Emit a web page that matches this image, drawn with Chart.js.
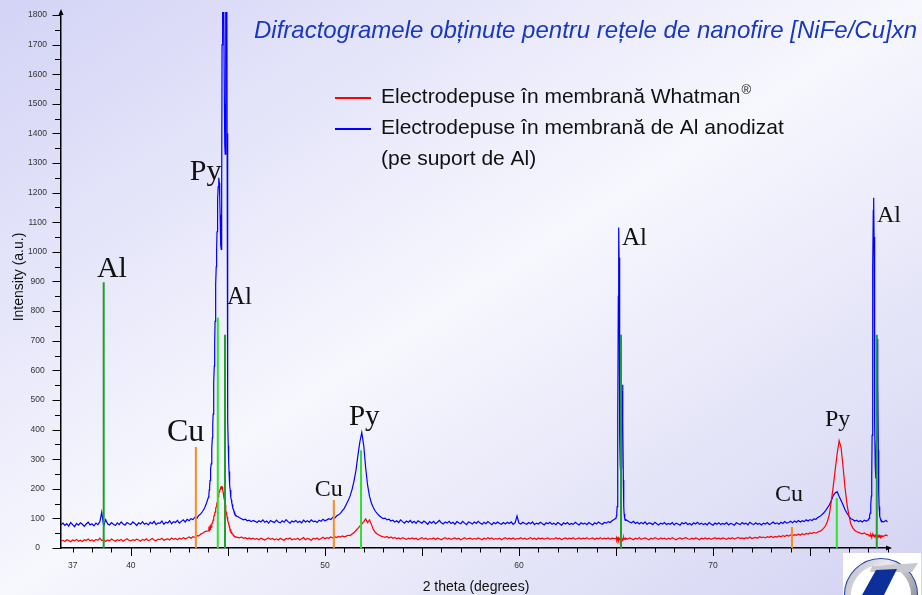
<!DOCTYPE html>
<html>
<head>
<meta charset="utf-8">
<script src="https://cdn.jsdelivr.net/npm/chart.js@4.4.1/dist/chart.umd.min.js"></script>
<style>
  html, body { margin: 0; padding: 0; }
  body {
    width: 922px; height: 595px; overflow: hidden;
    background: linear-gradient(to bottom right, #d3d3f6 0%, #f7f7fe 50%, #d3d3f3 100%);
  }
  #wrap { position: relative; width: 922px; height: 595px; }
  canvas { position: absolute; left: 0; top: 0; }
</style>
</head>
<body>
<div id="wrap"><canvas id="xrd" width="922" height="595"></canvas></div>
<script>
// Diffraction angle 2θ (degrees); finer steps across the sharp reflections
const twoTheta = [
  36.4,36.5,36.6,36.7,36.8,36.9,37.0,37.1,37.2,37.3,
  37.4,37.5,37.6,37.7,37.8,37.9,38.0,38.1,38.2,38.3,
  38.4,38.5,38.6,38.7,38.8,38.9,39.0,39.1,39.2,39.3,
  39.4,39.5,39.6,39.7,39.8,39.9,40.0,40.1,40.2,40.3,
  40.4,40.5,40.6,40.7,40.8,40.9,41.0,41.1,41.2,41.3,
  41.4,41.5,41.6,41.7,41.8,41.9,42.0,42.1,42.2,42.3,
  42.4,42.5,42.6,42.7,42.8,42.9,43.0,43.1,43.2,43.3,
  43.4,43.5,43.6,43.7,43.8,43.9,
  44.00,44.02,44.04,44.06,44.08,44.10,44.12,44.14,44.16,44.18,
  44.20,44.22,44.24,44.26,44.28,44.30,44.32,44.34,44.36,44.38,
  44.40,44.42,44.44,44.46,44.48,44.50,44.52,44.54,44.56,44.58,
  44.60,44.62,44.64,44.66,44.68,44.70,44.72,44.74,44.76,44.78,
  44.80,44.82,44.84,44.86,44.88,44.90,44.92,44.94,44.96,44.98,
  45.00,45.02,45.04,45.06,45.08,45.10,45.12,45.14,45.16,45.18,
  45.20,45.22,45.24,45.26,45.28,45.30,45.32,45.34,45.36,45.38,
  45.40,
  45.5,45.6,45.7,45.8,45.9,46.0,46.1,46.2,46.3,46.4,
  46.5,46.6,46.7,46.8,46.9,47.0,47.1,47.2,47.3,47.4,
  47.5,47.6,47.7,47.8,47.9,48.0,48.1,48.2,48.3,48.4,
  48.5,48.6,48.7,48.8,48.9,49.0,49.1,49.2,49.3,49.4,
  49.5,49.6,49.7,49.8,49.9,50.0,50.1,50.2,50.3,50.4,
  50.5,50.6,50.7,50.8,50.9,51.0,51.1,51.2,51.3,51.4,
  51.5,51.6,51.7,51.8,51.9,52.0,52.1,52.2,52.3,52.4,
  52.5,52.6,52.7,52.8,52.9,53.0,53.1,53.2,53.3,53.4,
  53.5,53.6,53.7,53.8,53.9,54.0,54.1,54.2,54.3,54.4,
  54.5,54.6,54.7,54.8,54.9,55.0,55.1,55.2,55.3,55.4,
  55.5,55.6,55.7,55.8,55.9,56.0,56.1,56.2,56.3,56.4,
  56.5,56.6,56.7,56.8,56.9,57.0,57.1,57.2,57.3,57.4,
  57.5,57.6,57.7,57.8,57.9,58.0,58.1,58.2,58.3,58.4,
  58.5,58.6,58.7,58.8,58.9,59.0,59.1,59.2,59.3,59.4,
  59.5,59.6,59.7,59.8,59.9,60.0,60.1,60.2,60.3,60.4,
  60.5,60.6,60.7,60.8,60.9,61.0,61.1,61.2,61.3,61.4,
  61.5,61.6,61.7,61.8,61.9,62.0,62.1,62.2,62.3,62.4,
  62.5,62.6,62.7,62.8,62.9,63.0,63.1,63.2,63.3,63.4,
  63.5,63.6,63.7,63.8,63.9,64.0,64.1,64.2,64.3,64.4,
  64.5,64.6,64.7,64.8,64.9,
  65.00,65.02,65.04,65.06,65.08,65.10,65.12,65.14,65.16,65.18,
  65.20,65.22,65.24,65.26,65.28,65.30,65.32,65.34,65.36,65.38,
  65.40,65.42,65.44,65.46,65.48,65.50,
  65.6,65.7,65.8,65.9,66.0,66.1,66.2,66.3,66.4,66.5,
  66.6,66.7,66.8,66.9,67.0,67.1,67.2,67.3,67.4,67.5,
  67.6,67.7,67.8,67.9,68.0,68.1,68.2,68.3,68.4,68.5,
  68.6,68.7,68.8,68.9,69.0,69.1,69.2,69.3,69.4,69.5,
  69.6,69.7,69.8,69.9,70.0,70.1,70.2,70.3,70.4,70.5,
  70.6,70.7,70.8,70.9,71.0,71.1,71.2,71.3,71.4,71.5,
  71.6,71.7,71.8,71.9,72.0,72.1,72.2,72.3,72.4,72.5,
  72.6,72.7,72.8,72.9,73.0,73.1,73.2,73.3,73.4,73.5,
  73.6,73.7,73.8,73.9,74.0,74.1,74.2,74.3,74.4,74.5,
  74.6,74.7,74.8,74.9,75.0,75.1,75.2,75.3,75.4,75.5,
  75.6,75.7,75.8,75.9,76.0,76.1,76.2,76.3,76.4,76.5,
  76.6,76.7,76.8,76.9,77.0,77.1,77.2,77.3,77.4,77.5,
  77.6,77.7,77.8,77.9,78.0,
  78.02,78.04,78.06,78.08,78.10,78.12,78.14,78.16,78.18,78.20,
  78.22,78.24,78.26,78.28,78.30,78.32,78.34,78.36,78.38,78.40,
  78.42,78.44,78.46,78.48,78.50,78.52,78.54,78.56,78.58,78.60,
  78.62,78.64,78.66,78.68,78.70,
  78.8,78.9,79.0
];

// Intensity (a.u.) — nanowires grown in the Whatman® membrane
const whatman = [
  24,26,22,28,25,21,27,24,29,23,
  26,22,28,25,30,24,27,23,29,26,
  33,25,28,22,27,24,30,26,23,28,
  25,29,23,27,31,26,24,28,25,30,
  27,23,29,26,31,25,28,32,27,24,
  30,28,33,26,29,31,27,34,29,32,
  28,33,30,35,31,34,37,33,38,36,
  42,41,47,50,55,57,
  58,63,59,67,63,71,74,70,79,81,
  85,90,94,99,105,110,116,121,127,133,
  139,146,153,160,167,173,179,185,190,195,
  199,202,205,207,204,206,200,195,188,180,
  172,163,155,146,137,128,120,112,105,98,
  92,86,81,76,71,67,63,60,57,54,
  52,49,47,46,44,42,41,39,40,37,
  38,
  36,34,37,33,35,31,34,30,33,29,
  32,28,33,30,27,31,34,29,32,28,
  31,27,33,29,26,32,30,34,28,31,
  29,33,27,31,35,28,32,30,26,33,
  30,34,28,32,36,31,35,33,37,34,
  38,35,39,37,41,38,40,43,42,47,
  52,59,66,74,81,88,98,86,95,79,
  62,52,47,43,40,38,36,39,34,37,
  33,36,31,34,30,35,32,29,33,31,
  34,30,33,28,32,35,30,33,29,32,
  30,34,29,33,31,28,32,35,30,33,
  29,32,34,30,33,28,31,35,30,32,
  33,29,32,30,34,31,28,33,30,35,
  31,34,29,32,30,33,28,32,35,30,
  33,30,34,29,32,31,35,30,33,29,
  32,35,30,33,29,34,31,33,30,32,
  34,29,32,30,35,31,33,28,32,34,
  30,33,31,35,29,32,34,30,33,31,
  35,30,32,34,29,33,31,35,30,33,
  31,34,30,33,32,
  31,35,29,33,36,30,34,28,32,35,
  30,33,29,34,31,36,30,33,28,32,
  35,30,34,31,29,33,
  30,34,31,28,33,30,35,29,32,34,
  31,28,33,30,35,32,29,34,31,33,
  29,33,30,35,31,28,32,34,30,33,
  35,31,29,33,30,34,32,28,33,31,
  34,30,33,29,32,35,31,33,30,34,
  32,29,34,31,35,30,33,36,32,34,
  31,35,33,37,32,34,36,33,38,35,
  37,34,38,36,40,35,39,37,41,38,
  42,39,43,40,44,41,45,43,47,44,
  48,45,49,47,51,49,53,50,54,56,
  60,66,75,90,115,160,210,265,320,362,
  340,275,206,150,112,82,68,60,55,53,
  50,48,51,46,45,
  44,41,45,42,40,43,46,41,39,43,
  42,45,40,43,41,38,42,44,40,43,
  41,39,42,45,40,37,41,43,39,42,
  40,38,41,43,39,
  40,44,41
];

// Intensity (a.u.) — nanowires grown in anodized Al membrane (on Al support)
const anodizedAl = [
  78,84,76,82,74,86,79,72,83,77,
  85,80,73,81,87,78,82,75,84,79,
  88,121,74,96,82,78,86,80,76,85,
  79,88,81,77,86,82,79,88,83,76,
  85,81,89,80,84,78,87,82,90,79,
  85,83,91,80,87,84,92,82,89,86,
  93,84,90,95,88,97,92,99,96,104,
  100,110,115,124,135,152,
  172,180,196,208,228,244,266,284,312,338,
  372,415,452,505,560,615,690,765,830,890,
  950,1010,1068,1125,1178,1220,1243,1250,1232,1185,
  1125,1065,1022,1008,1200,1700,2300,2700,2600,2200,
  1800,1500,1360,1330,1420,1900,2250,2100,1400,700,
  430,345,292,258,232,212,196,184,171,162,
  153,147,140,135,131,126,123,119,117,113,
  111,
  106,102,99,95,97,92,94,89,93,90,
  86,92,88,95,87,91,84,93,89,86,
  94,88,85,92,87,96,89,84,91,88,
  93,86,90,85,94,88,92,87,95,89,
  91,86,94,90,97,92,95,99,96,103,
  100,108,112,117,126,134,147,160,176,198,
  226,262,312,358,390,346,272,212,174,151,
  136,124,116,109,104,99,101,95,97,91,
  94,88,92,86,95,89,84,91,87,93,
  85,90,83,92,88,84,91,86,80,89,
  84,90,82,87,93,85,81,88,84,90,
  83,87,80,89,85,82,90,84,79,88,
  85,81,88,83,90,84,80,87,82,89,
  84,79,86,82,88,83,80,86,81,87,
  83,88,80,85,108,84,81,87,83,80,
  86,82,88,79,84,81,87,83,78,85,
  82,87,80,84,79,86,82,77,85,81,
  86,79,83,80,87,82,78,85,81,84,
  79,86,82,78,85,81,88,83,80,86,
  84,89,86,92,96,
  100,108,118,140,200,420,850,1082,980,620,
  380,280,255,270,330,440,530,551,420,230,
  140,115,104,99,93,96,
  92,88,85,90,83,87,81,86,82,88,
  80,85,83,79,87,82,78,84,81,86,
  79,83,80,86,78,84,81,77,85,82,
  86,79,83,78,85,81,87,80,84,79,
  83,78,86,81,77,84,80,85,79,83,
  80,86,78,83,81,77,85,82,79,86,
  81,84,78,87,82,79,85,80,83,78,
  84,81,86,79,83,88,82,85,80,87,
  83,89,84,86,90,85,91,87,93,88,
  92,89,95,91,96,93,98,97,103,106,
  112,118,126,136,146,160,178,186,190,174,
  160,146,130,118,108,99,96,91,94,89,
  92,88,94,90,95,
  96,100,104,110,118,128,145,175,240,380,
  640,950,1140,1183,1050,700,420,280,235,260,
  360,540,690,706,560,330,190,140,118,108,
  100,96,92,95,90,
  88,93,89
];

// Reference reflections (stick pattern): position and height
const alRefAngles  = [38.6, 44.85, 65.26, 78.44];
const alRefHeights = [897, 720, 720, 720];
const pyRefAngles  = [44.48, 51.86, 76.38];
const pyRefHeights = [778, 330, 169];
const cuRefAngles  = [43.35, 50.46, 74.07];
const cuRefHeights = [341, 162, 71];

// Axis ticks
const xTickValues = [37,38,39,40,41,42,43,44,45,46,47,48,49,50,51,52,53,54,55,56,57,58,
  59,60,61,62,63,64,65,66,67,68,69,70,71,72,73,74,75,76,77,78,79];
const xTickLabels = [37, 40, 50, 60, 70];
const yTickValues = [0,50,100,150,200,250,300,350,400,450,500,550,600,650,700,750,800,850,
  900,950,1000,1050,1100,1150,1200,1250,1300,1350,1400,1450,1500,1550,1600,1650,1700,1750,1800];

// Phase labels, anchored in data space (left edge, baseline)
const peakLabels = [
  { text: 'Al', twoTheta: 38.25, intensity: 916 },
  { text: 'Py', twoTheta: 43.04, intensity: 1241 },
  { text: 'Cu', twoTheta: 41.86, intensity: 362 },
  { text: 'Al', twoTheta: 44.95, intensity: 825 },
  { text: 'Cu', twoTheta: 49.48, intensity: 176 },
  { text: 'Py', twoTheta: 51.24, intensity: 416 },
  { text: 'Al', twoTheta: 65.31, intensity: 1024 },
  { text: 'Cu', twoTheta: 73.20, intensity: 159 },
  { text: 'Py', twoTheta: 75.77, intensity: 412 },
  { text: 'Al', twoTheta: 78.45, intensity: 1102 }
];
const peakLabelPx = [30, 30, 32, 25, 24, 29, 25, 24, 24, 24];

const seriesNames = [
  'Electrodepuse în membrană Whatman',
  'Electrodepuse în membrană de Al anodizat'
];
const chartTitle = 'Difractogramele obținute pentru rețele de nanofire [NiFe/Cu]xn';

if (whatman.length !== twoTheta.length || anodizedAl.length !== twoTheta.length) {
  throw new Error('series length mismatch: ' + twoTheta.length + ' / ' + whatman.length + ' / ' + anodizedAl.length);
}

const SANS = "'Liberation Sans', Arial, Helvetica, sans-serif";
const SERIF = "'Liberation Serif', 'Times New Roman', serif";

function sticks(angles, heights) {
  const pts = [];
  angles.forEach((a, i) => {
    pts.push({ x: a, y: 0 }, { x: a, y: heights[i] }, { x: a, y: null });
  });
  return pts;
}

function series(values) {
  return twoTheta.map((t, i) => ({ x: t, y: values[i] }));
}

const decor = {
  id: 'decor',
  afterDraw(chart) {
    const { ctx, chartArea: a, scales: { x, y } } = chart;
    ctx.save();

    // tick marks: longer on labelled / every-5° positions
    ctx.strokeStyle = '#000';
    ctx.lineWidth = 1;
    ctx.beginPath();
    x.ticks.forEach(t => {
      const px = Math.round(x.getPixelForValue(t.value)) + 0.5;
      const len = t.value % 5 === 0 ? 8 : 4.5;
      ctx.moveTo(px, a.bottom);
      ctx.lineTo(px, a.bottom + len);
    });
    y.ticks.forEach(t => {
      const py = Math.round(y.getPixelForValue(t.value)) + 0.5;
      const len = t.value % 100 === 0 ? 8.5 : 6;
      ctx.moveTo(a.left - len, py);
      ctx.lineTo(a.left, py);
    });
    ctx.stroke();

    // axis arrow heads
    ctx.fillStyle = '#000';
    ctx.beginPath();
    ctx.moveTo(a.left, a.top - 3);
    ctx.lineTo(a.left - 2.5, a.top + 3);
    ctx.lineTo(a.left + 2.5, a.top + 3);
    ctx.closePath();
    ctx.fill();
    ctx.beginPath();
    ctx.moveTo(a.right + 3, a.bottom);
    ctx.lineTo(a.right - 3, a.bottom - 2.5);
    ctx.lineTo(a.right - 3, a.bottom + 2.5);
    ctx.closePath();
    ctx.fill();

    // axis titles
    ctx.fillStyle = '#111';
    ctx.font = '14px ' + SANS;
    ctx.textAlign = 'center';
    ctx.textBaseline = 'middle';
    ctx.fillText('2 theta (degrees)', 476, 587);
    ctx.save();
    ctx.translate(19, 277);
    ctx.rotate(-Math.PI / 2);
    ctx.fillText('Intensity (a.u.)', 0, 0);
    ctx.restore();

    // phase labels
    ctx.textAlign = 'left';
    ctx.textBaseline = 'alphabetic';
    ctx.fillStyle = '#111';
    peakLabels.forEach((p, i) => {
      ctx.font = peakLabelPx[i] + 'px ' + SERIF;
      ctx.fillText(p.text, x.getPixelForValue(p.twoTheta), y.getPixelForValue(p.intensity));
    });

    // legend
    const ds = chart.data.datasets;
    const legendRows = [
      { color: ds[3].borderColor, text: seriesNames[0], sup: '®', y: 97 },
      { color: ds[4].borderColor, text: seriesNames[1], y: 128 },
      { color: null, text: '(pe suport de Al)', y: 159 }
    ];
    ctx.textBaseline = 'middle';
    legendRows.forEach(r => {
      if (r.color) {
        ctx.strokeStyle = r.color;
        ctx.lineWidth = 2;
        ctx.beginPath();
        ctx.moveTo(335, r.y + 1);
        ctx.lineTo(371, r.y + 1);
        ctx.stroke();
      }
      ctx.fillStyle = '#111';
      ctx.font = '21px ' + SANS;
      ctx.fillText(r.text, 381, r.y);
      if (r.sup) {
        const w = ctx.measureText(r.text).width;
        ctx.font = '13px ' + SANS;
        ctx.fillText(r.sup, 381 + w + 1, r.y - 7);
      }
    });

    // title
    ctx.fillStyle = '#1838c0';
    ctx.font = 'italic 24px ' + SANS;
    ctx.textAlign = 'right';
    ctx.textBaseline = 'middle';
    ctx.fillText(chartTitle, 917, 31);

    // emblem in the lower right corner
    ctx.fillStyle = '#ffffff';
    ctx.fillRect(843, 553, 78, 42);
    const g = ctx.createLinearGradient(845, 558, 915, 595);
    g.addColorStop(0, '#b8b8c0');
    g.addColorStop(0.5, '#e8e8ec');
    g.addColorStop(1, '#9a9aa4');
    ctx.strokeStyle = g;
    ctx.lineWidth = 6;
    ctx.beginPath();
    ctx.arc(881, 595, 33, Math.PI, 2 * Math.PI);
    ctx.stroke();
    ctx.strokeStyle = '#2c4aa6';
    ctx.lineWidth = 1.2;
    ctx.beginPath();
    ctx.arc(881, 595, 36.5, Math.PI, 2 * Math.PI);
    ctx.stroke();
    ctx.fillStyle = '#c8c8d0';
    ctx.beginPath();
    ctx.moveTo(872, 566);
    ctx.lineTo(918, 563);
    ctx.lineTo(912, 572);
    ctx.lineTo(870, 572);
    ctx.closePath();
    ctx.fill();
    ctx.fillStyle = '#0c2f9a';
    ctx.beginPath();
    ctx.moveTo(876, 570);
    ctx.lineTo(897, 569);
    ctx.lineTo(884, 595);
    ctx.lineTo(862, 595);
    ctx.closePath();
    ctx.fill();

    ctx.restore();
  }
};

const tickFont = { family: SANS, size: 8.5 };

new Chart(document.getElementById('xrd').getContext('2d'), {
  type: 'line',
  data: {
    datasets: [
      { label: 'Al', data: sticks(alRefAngles, alRefHeights), borderColor: '#1e9e2a', borderWidth: 2, spanGaps: false, order: 0 },
      { label: 'Py', data: sticks(pyRefAngles, pyRefHeights), borderColor: '#2ee22e', borderWidth: 2, spanGaps: false, order: 0 },
      { label: 'Cu', data: sticks(cuRefAngles, cuRefHeights), borderColor: '#fa8c1e', borderWidth: 2, spanGaps: false, order: 0 },
      { label: seriesNames[0] + '®', data: series(whatman), borderColor: '#ff0000', borderWidth: 1.2, order: 1 },
      { label: seriesNames[1], data: series(anodizedAl), borderColor: '#0000ff', borderWidth: 1.2, order: 2 }
    ]
  },
  options: {
    responsive: false,
    animation: false,
    devicePixelRatio: 1,
    layout: { padding: { top: 12, right: 33, bottom: 0, left: 0 } },
    elements: { line: { tension: 0, borderCapStyle: 'butt' }, point: { radius: 0, hoverRadius: 0 } },
    plugins: { legend: { display: false }, tooltip: { enabled: false }, title: { display: false } },
    events: [],
    scales: {
      x: {
        type: 'linear',
        min: 36.4,
        max: 79.07,
        afterBuildTicks: s => { s.ticks = xTickValues.map(v => ({ value: v })); },
        afterFit: s => { s.height = 47; },
        ticks: {
          autoSkip: false, maxRotation: 0, minRotation: 0, padding: 5,
          font: tickFont, color: '#333',
          callback: v => xTickLabels.includes(v) ? String(v) : ''
        },
        grid: { drawOnChartArea: false, drawTicks: true, tickLength: 8, tickColor: 'rgba(0,0,0,0)' },
        border: { display: true, color: '#000', width: 1.5 }
      },
      y: {
        type: 'linear',
        min: 0,
        max: 1810,
        afterBuildTicks: s => { s.ticks = yTickValues.map(v => ({ value: v })); },
        afterFit: s => { s.width = 61; },
        ticks: {
          autoSkip: false, padding: 5, crossAlign: 'center',
          font: tickFont, color: '#333',
          callback: v => v % 100 === 0 ? String(v) : ''
        },
        grid: { drawOnChartArea: false, drawTicks: true, tickLength: 9, tickColor: 'rgba(0,0,0,0)' },
        border: { display: true, color: '#000', width: 1.5 }
      }
    }
  },
  plugins: [decor]
});
</script>
</body>
</html>
